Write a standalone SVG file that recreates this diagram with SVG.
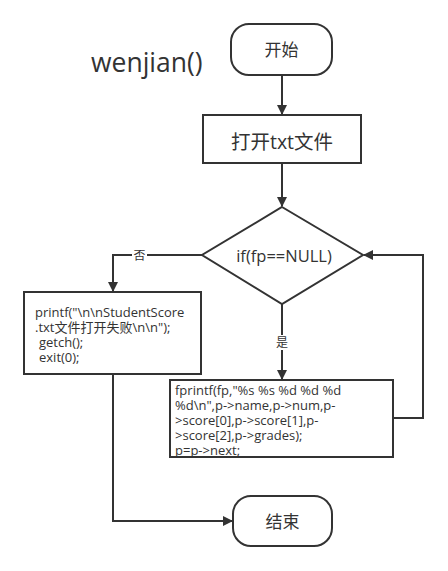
<svg xmlns="http://www.w3.org/2000/svg" width="448" height="571" viewBox="0 0 448 571">
<style>
.n{fill:#fff;stroke:#333;stroke-width:2}
.t{font-family:"Open Sans","Noto Sans CJK SC",sans-serif;fill:#333}
.c{stroke:#333;stroke-width:2;fill:none}
.lb{font-family:"Noto Sans CJK SC",sans-serif;font-size:12px;fill:#333}
</style>
<defs>
<marker id="ah" markerWidth="10" markerHeight="10" refX="9" refY="5" orient="auto" markerUnits="userSpaceOnUse" viewBox="0 0 10 10">
<path d="M0,0 L10,5 L0,10 Z" fill="#333"/>
</marker>
</defs>
<rect width="448" height="571" fill="#fff"/>
<text class="t" x="91" y="72" font-size="26.5">wenjian()</text>
<g id="connectors">
<path class="c" d="M282,75 V114" marker-end="url(#ah)"/>
<path class="c" d="M282,163 V206" marker-end="url(#ah)"/>
<path class="c" d="M202,255 H113 V291" marker-end="url(#ah)"/>
<rect x="132" y="248" width="15" height="15" fill="#fff"/>
<text class="lb" x="139.5" y="260" text-anchor="middle">否</text>
<path class="c" d="M282,304 V379" marker-end="url(#ah)"/>
<rect x="275" y="335" width="15" height="15" fill="#fff"/>
<text class="lb" x="282" y="347" text-anchor="middle">是</text>
<path class="c" d="M393,418 H423 V255 H364" marker-end="url(#ah)"/>
<path class="c" d="M113,374 V521 H232" marker-end="url(#ah)"/>
</g>
<g id="start">
<rect class="n" x="231" y="24" width="101" height="51" rx="18"/>
<text class="t" x="281.5" y="56" font-size="17" text-anchor="middle">开始</text>
</g>
<g id="open">
<rect class="n" x="203" y="115" width="158" height="48"/>
<text class="t" x="282" y="149" font-size="19.5" text-anchor="middle">打开txt文件</text>
</g>
<g id="decision">
<polygon class="n" points="282,207 363,255 282,304 202,255"/>
<text class="t" x="284" y="262" font-size="16.5" text-anchor="middle">if(fp==NULL)</text>
</g>
<g id="fail">
<rect class="n" x="24" y="292" width="177" height="82"/>
<text class="t" font-size="13">
<tspan x="35" y="317">printf("\n\nStudentScore</tspan>
<tspan x="35" y="332">.txt文件打开失败\n\n");</tspan>
<tspan x="39" y="347">getch();</tspan>
<tspan x="39" y="362">exit(0);</tspan>
</text>
</g>
<g id="write">
<rect class="n" x="170" y="380" width="223" height="77"/>
<text class="t" font-size="13">
<tspan x="175" y="395">fprintf(fp,"%s %s %d %d %d</tspan>
<tspan x="175" y="410">%d\n",p-&gt;name,p-&gt;num,p-</tspan>
<tspan x="175" y="425">&gt;score[0],p-&gt;score[1],p-</tspan>
<tspan x="175" y="440">&gt;score[2],p-&gt;grades);</tspan>
<tspan x="175" y="455">p=p-&gt;next;</tspan>
</text>
</g>
<g id="end">
<rect class="n" x="233" y="496" width="99" height="50" rx="18"/>
<text class="t" x="282.5" y="528" font-size="17" text-anchor="middle">结束</text>
</g>
</svg>
